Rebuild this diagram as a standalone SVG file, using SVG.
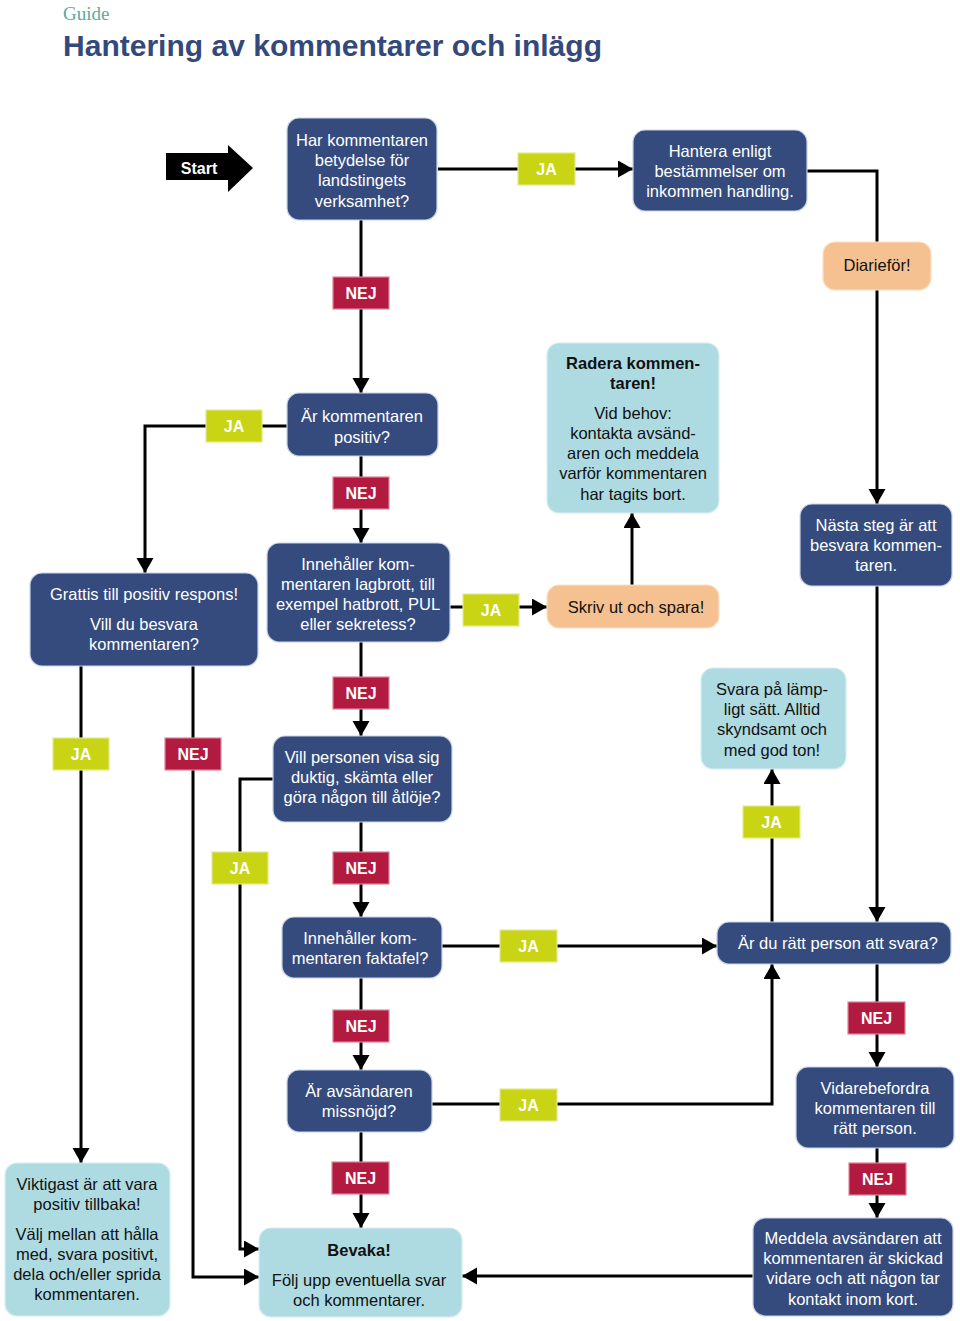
<svg xmlns="http://www.w3.org/2000/svg" width="960" height="1321" viewBox="0 0 960 1321">
<defs>
<marker id="ah" markerUnits="userSpaceOnUse" markerWidth="16" markerHeight="18" refX="15" refY="8.5" orient="auto">
<path d="M0,0 L15,8.5 L0,17 Z" fill="#000"/>
</marker>
<style>
.n{fill:#354b7d;stroke:#c9d3e6;stroke-width:1.2}
.lb{fill:#aedbe1;stroke:#d7eef1;stroke-width:1.2}
.or{fill:#f6c190;stroke:#fbe0c6;stroke-width:1.2}
.ja{fill:#c8d414;stroke:#e1e98a;stroke-width:1.2}
.nej{fill:#b31a40;stroke:#dc8498;stroke-width:1.2}
.c{fill:none;stroke:#000;stroke-width:3}
.ca{fill:none;stroke:#000;stroke-width:3;marker-end:url(#ah)}
text{font-family:"Liberation Sans",Arial,Helvetica,sans-serif}
.w{fill:#fff;font-size:16.5px;text-anchor:middle}
.k{fill:#111;font-size:16.5px;text-anchor:middle}
.kb{fill:#111;font-size:16.5px;text-anchor:middle;font-weight:bold}
.lt{fill:#fff;font-size:16px;font-weight:bold;text-anchor:middle}
</style>
</defs>
<rect width="960" height="1321" fill="#fff"/>
<text x="63" y="20" font-family="Liberation Serif,serif" font-size="19" fill="#5aaaa0" style="font-family:'Liberation Serif',serif">Guide</text>
<text x="63" y="56" font-size="29" font-weight="bold" fill="#34497b" textLength="539" lengthAdjust="spacingAndGlyphs">Hantering av kommentarer och inlägg</text>

<g id="connectors">
<path class="ca" d="M438,169 H633"/>
<path class="ca" d="M361,220 V393"/>
<path class="c" d="M807,171 H877 V242"/>
<path class="ca" d="M877,290 V504"/>
<path class="ca" d="M287,426 H145 V573"/>
<path class="ca" d="M361,456 V543"/>
<path class="ca" d="M450,607 H547"/>
<path class="ca" d="M632,585 V513"/>
<path class="ca" d="M361,642 V736"/>
<path class="ca" d="M81,666 V1163"/>
<path class="ca" d="M193,666 V1277 H259"/>
<path class="ca" d="M273,779 H240 V1249 H259"/>
<path class="ca" d="M361,822 V917"/>
<path class="ca" d="M442,946 H717"/>
<path class="ca" d="M772,922 V769"/>
<path class="ca" d="M877,586 V922"/>
<path class="ca" d="M877,964 V1067"/>
<path class="ca" d="M877,1148 V1218"/>
<path class="ca" d="M753,1276 H462"/>
<path class="ca" d="M361,978 V1070"/>
<path class="ca" d="M432,1104 H772 V964"/>
<path class="ca" d="M361,1132 V1228"/>
</g>

<g id="labels">
<g><rect class="ja" x="518" y="153" width="57" height="32"/><text class="lt" x="546.5" y="175">JA</text></g>
<g><rect class="nej" x="333" y="277" width="56" height="32"/><text class="lt" x="361" y="299">NEJ</text></g>
<g><rect class="ja" x="206" y="410" width="56" height="32"/><text class="lt" x="234" y="432">JA</text></g>
<g><rect class="nej" x="333" y="477" width="56" height="32"/><text class="lt" x="361" y="499">NEJ</text></g>
<g><rect class="ja" x="463" y="594" width="56" height="32"/><text class="lt" x="491" y="616">JA</text></g>
<g><rect class="nej" x="333" y="677" width="56" height="32"/><text class="lt" x="361" y="699">NEJ</text></g>
<g><rect class="ja" x="53" y="738" width="56" height="32"/><text class="lt" x="81" y="760">JA</text></g>
<g><rect class="nej" x="165" y="738" width="56" height="32"/><text class="lt" x="193" y="760">NEJ</text></g>
<g><rect class="ja" x="212" y="852" width="56" height="32"/><text class="lt" x="240" y="874">JA</text></g>
<g><rect class="nej" x="333" y="852" width="56" height="32"/><text class="lt" x="361" y="874">NEJ</text></g>
<g><rect class="ja" x="500" y="930" width="57" height="32"/><text class="lt" x="528.5" y="952">JA</text></g>
<g><rect class="ja" x="743" y="806" width="57" height="32"/><text class="lt" x="771.5" y="828">JA</text></g>
<g><rect class="nej" x="848" y="1002" width="57" height="32"/><text class="lt" x="876.5" y="1024">NEJ</text></g>
<g><rect class="nej" x="333" y="1010" width="56" height="32"/><text class="lt" x="361" y="1032">NEJ</text></g>
<g><rect class="ja" x="500" y="1089" width="57" height="32"/><text class="lt" x="528.5" y="1111">JA</text></g>
<g><rect class="nej" x="849" y="1163" width="57" height="32"/><text class="lt" x="877.5" y="1185">NEJ</text></g>
<g><rect class="nej" x="332" y="1162" width="57" height="32"/><text class="lt" x="360.5" y="1184">NEJ</text></g>
</g>

<g id="start">
<path d="M166,153 H228 V145 L253,168 L228,192 V180 H166 Z" fill="#000"/>
<text x="199" y="174" fill="#fff" font-size="16" font-weight="bold" text-anchor="middle">Start</text>
</g>

<g id="n-betydelse">
<rect class="n" x="287" y="118" width="150" height="102" rx="12"/>
<text class="w" x="362" y="146">Har kommentaren</text>
<text class="w" x="362" y="166">betydelse för</text>
<text class="w" x="362" y="186">landstingets</text>
<text class="w" x="362" y="207">verksamhet?</text>
</g>

<g id="n-hantera">
<rect class="n" x="633" y="130" width="174" height="81" rx="12"/>
<text class="w" x="720" y="157">Hantera enligt</text>
<text class="w" x="720" y="177">bestämmelser om</text>
<text class="w" x="720" y="197">inkommen handling.</text>
</g>

<g id="n-diarie">
<rect class="or" x="823" y="242" width="108" height="48" rx="12"/>
<text class="k" x="877" y="271">Diarieför!</text>
</g>

<g id="n-positiv">
<rect class="n" x="287" y="393" width="151" height="63" rx="12"/>
<text class="w" x="362" y="422">Är kommentaren</text>
<text class="w" x="362" y="443">positiv?</text>
</g>

<g id="n-radera">
<rect class="lb" x="547" y="343" width="172" height="170" rx="12"/>
<text class="kb" x="633" y="369">Radera kommen-</text>
<text class="kb" x="633" y="389">taren!</text>
<text class="k" x="633" y="419">Vid behov:</text>
<text class="k" x="633" y="439">kontakta avsänd-</text>
<text class="k" x="633" y="459">aren och meddela</text>
<text class="k" x="633" y="479">varför kommentaren</text>
<text class="k" x="633" y="500">har tagits bort.</text>
</g>

<g id="n-nasta">
<rect class="n" x="800" y="504" width="152" height="82" rx="12"/>
<text class="w" x="876" y="531">Nästa steg är att</text>
<text class="w" x="876" y="551">besvara kommen-</text>
<text class="w" x="876" y="571">taren.</text>
</g>

<g id="n-grattis">
<rect class="n" x="30" y="573" width="228" height="93" rx="12"/>
<text class="w" x="144" y="600">Grattis till positiv respons!</text>
<text class="w" x="144" y="630">Vill du besvara</text>
<text class="w" x="144" y="650">kommentaren?</text>
</g>

<g id="n-lagbrott">
<rect class="n" x="267" y="543" width="183" height="99" rx="12"/>
<text class="w" x="358" y="570">Innehåller kom-</text>
<text class="w" x="358" y="590">mentaren lagbrott, till</text>
<text class="w" x="358" y="610">exempel hatbrott, PUL</text>
<text class="w" x="358" y="630">eller sekretess?</text>
</g>

<g id="n-skriv">
<rect class="or" x="547" y="585" width="172" height="43" rx="12"/>
<text class="k" x="636" y="613">Skriv ut och spara!</text>
</g>

<g id="n-svara">
<rect class="lb" x="701" y="668" width="145" height="101" rx="12"/>
<text class="k" x="772" y="695">Svara på lämp-</text>
<text class="k" x="772" y="715">ligt sätt. Alltid</text>
<text class="k" x="772" y="735">skyndsamt och</text>
<text class="k" x="772" y="756">med god ton!</text>
</g>

<g id="n-vill">
<rect class="n" x="273" y="736" width="179" height="86" rx="12"/>
<text class="w" x="362" y="763">Vill personen visa sig</text>
<text class="w" x="362" y="783">duktig, skämta eller</text>
<text class="w" x="362" y="803">göra någon till åtlöje?</text>
</g>

<g id="n-faktafel">
<rect class="n" x="282" y="917" width="160" height="61" rx="12"/>
<text class="w" x="360" y="944">Innehåller kom-</text>
<text class="w" x="360" y="964">mentaren faktafel?</text>
</g>

<g id="n-rattperson">
<rect class="n" x="717" y="922" width="234" height="42" rx="12"/>
<text class="w" x="838" y="949">Är du rätt person att svara?</text>
</g>

<g id="n-missnojd">
<rect class="n" x="287" y="1070" width="145" height="62" rx="12"/>
<text class="w" x="359" y="1097">Är avsändaren</text>
<text class="w" x="359" y="1117">missnöjd?</text>
</g>

<g id="n-vidare">
<rect class="n" x="796" y="1067" width="158" height="81" rx="12"/>
<text class="w" x="875" y="1094">Vidarebefordra</text>
<text class="w" x="875" y="1114">kommentaren till</text>
<text class="w" x="875" y="1134">rätt person.</text>
</g>

<g id="n-viktigast">
<rect class="lb" x="5" y="1163" width="165" height="153" rx="12"/>
<text class="k" x="87" y="1190">Viktigast är att vara</text>
<text class="k" x="87" y="1210">positiv tillbaka!</text>
<text class="k" x="87" y="1240">Välj mellan att hålla</text>
<text class="k" x="87" y="1260">med, svara positivt,</text>
<text class="k" x="87" y="1280">dela och/eller sprida</text>
<text class="k" x="87" y="1300">kommentaren.</text>
</g>

<g id="n-bevaka">
<rect class="lb" x="259" y="1228" width="203" height="89" rx="12"/>
<text class="kb" x="359" y="1256">Bevaka!</text>
<text class="k" x="359" y="1286">Följ upp eventuella svar</text>
<text class="k" x="359" y="1306">och kommentarer.</text>
</g>

<g id="n-meddela">
<rect class="n" x="753" y="1218" width="200" height="98" rx="12"/>
<text class="w" x="853" y="1244">Meddela avsändaren att</text>
<text class="w" x="853" y="1264">kommentaren är skickad</text>
<text class="w" x="853" y="1284">vidare och att någon tar</text>
<text class="w" x="853" y="1305">kontakt inom kort.</text>
</g>
</svg>
